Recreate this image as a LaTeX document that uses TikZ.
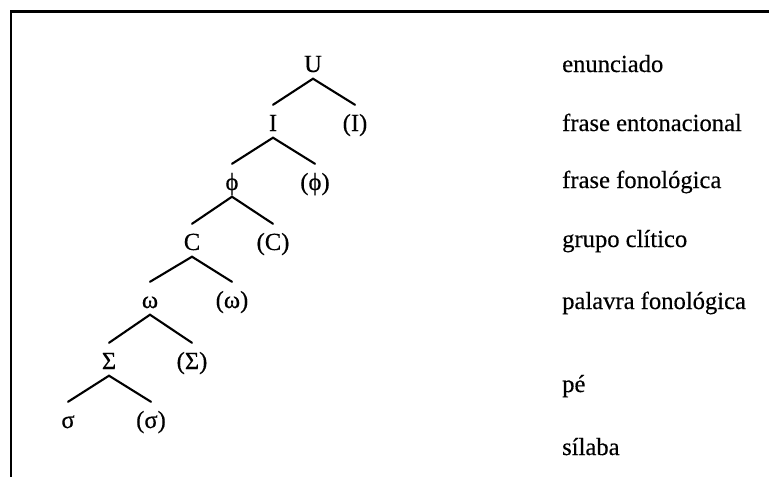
\documentclass[tikz,border=0pt]{standalone}
\usepackage{fontspec}
\setmainfont{Liberation Serif}
\newfontfamily\treefont[FakeBold=0.35]{Liberation Serif}
\begin{document}
\begin{tikzpicture}[x=1pt,y=-1pt,
  every node/.style={font=\treefont\fontsize{24.6}{28}\selectfont},
  tn/.style={inner sep=0pt, text height=26pt, text depth=6.5pt, anchor=base},
  lab/.style={inner sep=0pt, anchor=base west},
  br/.style={line width=2.1pt, line cap=round}]
\useasboundingbox (0,0) rectangle (769,477);
\fill[white] (0,0) rectangle (769,477);
\draw[line width=2.2pt] (10,11.5) -- (769,11.5);
\draw[line width=2.2pt] (11,11.5) -- (11,477);
% tree
\node[tn] (U)  at (313,72) {U};
\node[tn] (I)  at (273,131) {I};
\node[tn] (Ir) at (355,131) {(I)};
\node[tn] (P)  at (232,190) {ϕ};
\node[tn] (Pr) at (315,190) {(ϕ)};
\node[tn] (C)  at (192,250) {C};
\node[tn] (Cr) at (273,250) {(C)};
\node[tn] (W)  at (150,308) {ω};
\node[tn] (Wr) at (232,308) {(ω)};
\node[tn] (S)  at (109,369) {Σ};
\node[tn] (Sr) at (192,369) {(Σ)};
\node[tn] (s)  at (68,428) {σ};
\node[tn] (sr) at (151,428) {(σ)};
\draw[br] (I.north) -- (U.south) -- (Ir.north);
\draw[br] (P.north) -- (I.south) -- (Pr.north);
\draw[br] (C.north) -- (P.south) -- (Cr.north);
\draw[br] (W.north) -- (C.south) -- (Wr.north);
\draw[br] (S.north) -- (W.south) -- (Sr.north);
\draw[br] (s.north) -- (S.south) -- (sr.north);
% labels
\node[lab] (l1) at (562,72) {enunciado};
\node[lab] (l2) at (562,131) {frase entonacional};
\node[lab] (l3) at (562,188) {frase fonológica};
\node[lab] (l4) at (562,247) {grupo clítico};
\node[lab] (l5) at (562,309) {palavra fonológica};
\node[lab] (l6) at (562,392) {pé};
\node[lab] (l7) at (562,455) {sílaba};
\end{tikzpicture}
\end{document}
